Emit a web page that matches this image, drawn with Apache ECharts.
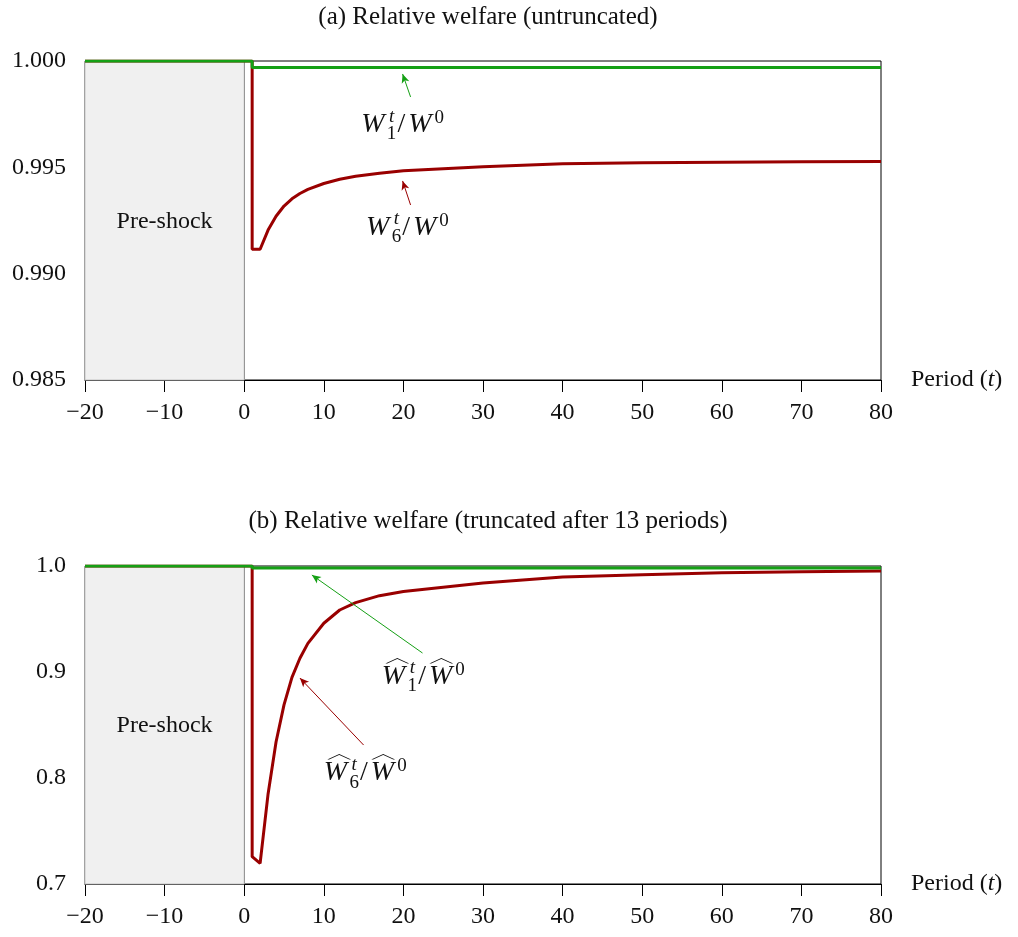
<!DOCTYPE html>
<html>
<head>
<meta charset="utf-8">
<script src="https://cdn.jsdelivr.net/npm/echarts@6/dist/echarts.min.js"></script>
<style>
  html, body { margin: 0; background: #fff; }
  #chart { width: 1018px; height: 937px; }
</style>
</head>
<body>
<div id="chart"></div>
<script>
// periods (t = 1 appears twice: the step down when the shock hits)
const periods = [-20, 1, 1, 2, 3, 4, 5, 6, 7, 8, 10, 12, 14, 17, 20, 30, 40, 50, 60, 70, 80];

// (a) untruncated
const w1Untrunc = [1, 1, 0.9997, 0.9997, 0.9997, 0.9997, 0.9997, 0.9997, 0.9997, 0.9997, 0.9997,
  0.9997, 0.9997, 0.9997, 0.9997, 0.9997, 0.9997, 0.9997, 0.9997, 0.9997, 0.9997];
const w6Untrunc = [1, 1, 0.99115, 0.99115, 0.99205, 0.9927, 0.99318, 0.99352, 0.99377, 0.99396, 0.99424,
  0.99444, 0.99458, 0.99472, 0.99484, 0.99503, 0.99517, 0.99522, 0.99524, 0.99526, 0.99527];

// (b) truncated after 13 periods
const w1Trunc = [1, 1, 0.998, 0.998, 0.998, 0.998, 0.998, 0.998, 0.998, 0.998, 0.998,
  0.998, 0.998, 0.998, 0.998, 0.998, 0.998, 0.998, 0.998, 0.998, 0.998];
const w6Trunc = [1, 1, 0.7258, 0.7195, 0.785, 0.834, 0.869, 0.895, 0.913, 0.927, 0.946,
  0.9585, 0.9654, 0.972, 0.976, 0.984, 0.9896, 0.9918, 0.9937, 0.9946, 0.9953];

const titles = ['(a) Relative welfare (untruncated)', '(b) Relative welfare (truncated after 13 periods)'];

const FONT = '"Liberation Serif", "DejaVu Serif", serif';
const RED = '#990000';
const GREEN = '#15a015';
const FS = 24;
const INK = '#111';

const chart = echarts.init(document.getElementById('chart'));

const pairs = (ys) => periods.map((t, i) => [t, ys[i]]);

// W^t_k / W^0, optionally with wide hats over both W's
const mathLabel = (coord, sub, hat) => {
  const items = [
    {
      coord: coord,
      label: {
        show: true, position: 'inside', color: INK, fontFamily: FONT,
        formatter: '{w|W}{gap| }{n|/}{g2| }{w|W}{sup|0}',
        rich: {
          w: { fontSize: 28, fontStyle: 'italic', fontFamily: FONT, color: INK },
          gap: { fontSize: 28, width: 13 },
          g2: { fontSize: 28, width: 3 },
          n: { fontSize: 28, fontFamily: FONT, color: INK },
          sup: { fontSize: 19, fontFamily: FONT, color: INK, padding: [0, 0, 14, 3] }
        }
      }
    },
    {
      coord: coord,
      label: {
        show: true, position: 'inside', fontFamily: FONT, color: INK,
        offset: [-11, 1],
        formatter: '{t|t}\n{s|' + sub + '}',
        rich: {
          t: { fontSize: 19, fontStyle: 'italic', fontFamily: FONT, color: INK, lineHeight: 17 },
          s: { fontSize: 19, fontFamily: FONT, color: INK, lineHeight: 19 }
        }
      }
    }
  ];
  if (hat) {
    [-26, 18].forEach((dx) => items.push({
      coord: coord,
      symbol: 'path://M0,6 L12,0 L24,6',
      symbolSize: [22, 5],
      symbolOffset: [dx, -16],
      itemStyle: { color: 'transparent', borderColor: INK, borderWidth: 1 },
      label: { show: false }
    }));
  }
  return items;
};

const arrow = (from, to) => [{ coord: from }, { coord: to }];

const preShock = {
  silent: true,
  itemStyle: { color: '#f0f0f0', borderColor: '#c4c4c4', borderWidth: 1 },
  data: [[{ xAxis: -20 }, { xAxis: 0 }]]
};

const textPoint = (coord, text) => ({
  coord: coord,
  label: { show: true, position: 'inside', formatter: text, fontFamily: FONT, fontSize: FS, color: INK }
});

const grids = [
  { left: 85, top: 61, width: 796, height: 319 },
  { left: 85, top: 566, width: 796, height: 318 }
];

const xAxisCfg = (gi) => ({
  gridIndex: gi, type: 'value', min: -20, max: 80, interval: 10,
  name: '{n|Period (}{i|t}{n|)}', nameLocation: 'end', nameGap: 30,
  nameTextStyle: {
    rich: {
      n: { fontFamily: FONT, fontSize: FS, color: INK },
      i: { fontFamily: FONT, fontSize: FS, fontStyle: 'italic', color: INK }
    }
  },
  axisLine: { show: true, onZero: false, lineStyle: { color: '#000', width: 1 } },
  axisTick: { show: true, inside: false, length: 12, lineStyle: { color: '#000' } },
  axisLabel: {
    fontFamily: FONT, fontSize: FS, color: INK, margin: 21,
    formatter: (v) => String(v).replace('-', '\u2212')
  },
  splitLine: { show: false }
});

const yAxisCfg = (gi, min, max, interval, digits) => ({
  gridIndex: gi, type: 'value', min: min, max: max, interval: interval,
  axisLine: { show: true, lineStyle: { color: '#000', width: 1 } },
  axisTick: { show: true, inside: false, length: 12, lineStyle: { color: '#000' } },
  axisLabel: {
    fontFamily: FONT, fontSize: FS, color: INK, margin: 19,
    formatter: (v) => v.toFixed(digits)
  },
  splitLine: { show: false }
});

const lineSeries = (gi, ys, color, extra) => Object.assign({
  type: 'line', xAxisIndex: gi, yAxisIndex: gi,
  data: pairs(ys), showSymbol: false, symbol: 'none', silent: true,
  lineStyle: { color: color, width: 3 }, itemStyle: { color: color },
  animation: false
}, extra || {});

const arrowLine = (data, color) => ({
  silent: true, symbol: ['none', 'arrow'], symbolSize: [6, 9],
  label: { show: false },
  lineStyle: { color: color, width: 1, type: 'solid' },
  emphasis: { disabled: true },
  data: data
});

const labelPoints = (data) => ({ symbol: 'circle', symbolSize: 0, silent: true, data: data });

const titleStyle = { fontFamily: FONT, fontSize: 25, fontWeight: 'normal', color: INK };

const option = {
  animation: false,
  backgroundColor: '#fff',
  title: [
    { text: titles[0], left: 483, top: 0, textAlign: 'center', textStyle: titleStyle },
    { text: titles[1], left: 483, top: 504, textAlign: 'center', textStyle: titleStyle }
  ],
  grid: grids.map((g) => Object.assign({ show: true, borderColor: '#000', borderWidth: 1, backgroundColor: 'transparent' }, g)),
  xAxis: [xAxisCfg(0), xAxisCfg(1)],
  yAxis: [yAxisCfg(0, 0.985, 1.0, 0.005, 3), yAxisCfg(1, 0.7, 1.0, 0.1, 1)],
  series: [
    lineSeries(0, w6Untrunc, RED, {
      markArea: preShock,
      markLine: arrowLine([arrow([20.9, 0.99323], [19.9, 0.99436])], RED),
      markPoint: labelPoints([textPoint([-10, 0.99243], 'Pre-shock')].concat(mathLabel([20.5, 0.99215], '6', false)))
    }),
    lineSeries(0, w1Untrunc, GREEN, {
      markLine: arrowLine([arrow([20.9, 0.99831], [19.9, 0.99939])], GREEN),
      markPoint: labelPoints(mathLabel([19.9, 0.99699], '1', false))
    }),
    lineSeries(1, w6Trunc, RED, {
      markArea: preShock,
      markLine: arrowLine([arrow([15.0, 0.8311], [7.0, 0.8943])], RED),
      markPoint: labelPoints([textPoint([-10, 0.849], 'Pre-shock')].concat(mathLabel([15.2, 0.8047], '6', true)))
    }),
    lineSeries(1, w1Trunc, GREEN, {
      markLine: arrowLine([arrow([22.4, 0.9179], [8.5, 0.9915])], GREEN),
      markPoint: labelPoints(mathLabel([22.5, 0.8953], '1', true))
    })
  ]
};

chart.setOption(option);
</script>
</body>
</html>
